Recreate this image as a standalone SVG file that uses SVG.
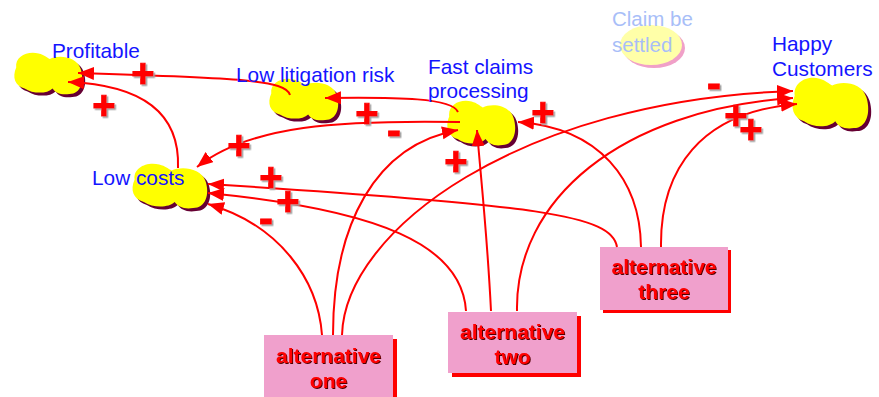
<svg xmlns="http://www.w3.org/2000/svg" xmlns:xlink="http://www.w3.org/1999/xlink" width="879" height="397" viewBox="0 0 879 397">
<style>
.lbl{font-family:"Liberation Sans",Arial,sans-serif;font-size:20.8px;fill:#1414ff}
.faint{font-family:"Liberation Sans",Arial,sans-serif;font-size:20.5px;fill:#a8bef8}
.alt{font-family:"Liberation Sans",Arial,sans-serif;font-size:21px;font-weight:bold;fill:#ff0000;text-anchor:middle;filter:url(#tshadow)}
.sign{font-family:"Liberation Sans",Arial,sans-serif;font-weight:bold;fill:#ff0000;stroke:#ff0000;stroke-width:1;text-anchor:middle;filter:url(#sshadow)}
.plus{font-size:40px}
.minus{font-size:42px}
.link{fill:none;stroke:#ff0000;stroke-width:2;marker-end:url(#arrow)}
.cloudsh{fill:#660033}
.cloud{fill:#ffff00}
.box{fill:#f0a0cc}
.boxsh{fill:#ff0000}
</style>
<defs>
<path id="cloud" d="M6,22 C4,6 22,-2 38,2 C46,4 50,8 54,10 C66,4 92,6 98,24 C104,42 98,60 82,60 C70,62 62,58 58,52 C50,60 30,60 18,52 C4,48 0,36 6,22 Z"/>
<marker id="arrow" markerUnits="userSpaceOnUse" markerWidth="18" markerHeight="14" refX="16" refY="6.5" orient="auto">
<path d="M0,0 L16,6.5 L0,13 Z" fill="#ff0000"/>
</marker>
<filter id="tshadow" x="-10%" y="-20%" width="120%" height="140%">
<feDropShadow dx="1" dy="1" stdDeviation="0.4" flood-color="#500000"/>
</filter>
<filter id="sshadow" x="-30%" y="-30%" width="160%" height="160%">
<feDropShadow dx="1.5" dy="1.5" stdDeviation="0.5" flood-color="#a0a0a0"/>
</filter>
</defs>
<rect width="879" height="397" fill="#ffffff"/>

<g id="node-profitable">
<use xlink:href="#cloud" class="cloudsh" transform="translate(15,55) scale(0.7,0.7)"/>
<use xlink:href="#cloud" class="cloud" transform="translate(12,52) scale(0.7,0.7)"/>
</g>
<g id="node-low-costs">
<use xlink:href="#cloud" class="cloudsh" transform="translate(133,166) scale(0.77,0.75)"/>
<use xlink:href="#cloud" class="cloud" transform="translate(130,163) scale(0.77,0.75)"/>
</g>
<g id="node-low-litigation-risk">
<use xlink:href="#cloud" class="cloudsh" transform="translate(270,81) scale(0.71,0.7)"/>
<use xlink:href="#cloud" class="cloud" transform="translate(267,78) scale(0.71,0.7)"/>
</g>
<g id="node-fast-claims">
<use xlink:href="#cloud" class="cloudsh" transform="translate(448,103) scale(0.7,0.75)"/>
<use xlink:href="#cloud" class="cloud" transform="translate(445,100) scale(0.7,0.75)"/>
</g>
<g id="node-happy-customers">
<use xlink:href="#cloud" class="cloudsh" transform="translate(793,80) scale(0.78,0.85)"/>
<use xlink:href="#cloud" class="cloud" transform="translate(790,77) scale(0.78,0.85)"/>
</g>
<g id="node-claim-settled">
<ellipse cx="654" cy="48" rx="31" ry="20" fill="#f0a0c8"/>
<ellipse cx="651" cy="45" rx="31" ry="20" fill="#ffffa8"/>
<text class="faint" x="612" y="26">Claim be</text>
<text class="faint" x="612" y="52">settled</text>
</g>

<g id="node-alt-one">
<rect class="boxsh" x="268" y="339" width="129" height="62"/>
<rect class="box" x="264" y="335" width="129" height="62"/>
<text class="alt" x="328.5" y="363">alternative</text>
<text class="alt" x="328.5" y="388">one</text>
</g>
<g id="node-alt-two">
<rect class="boxsh" x="452" y="316" width="129" height="61"/>
<rect class="box" x="448" y="312" width="129" height="61"/>
<text class="alt" x="512.5" y="339">alternative</text>
<text class="alt" x="512.5" y="364">two</text>
</g>
<g id="node-alt-three">
<rect class="boxsh" x="603" y="250" width="128" height="63"/>
<rect class="box" x="600" y="247" width="128" height="63"/>
<text class="alt" x="664" y="274">alternative</text>
<text class="alt" x="664" y="299">three</text>
</g>

<g id="connectors">
<path class="link" d="M290,95 C286,80 240,78 78,73"/>
<path class="link" d="M178,168 C180,115 145,85 68,82"/>
<path class="link" d="M458,112 C452,98 400,97 325,98"/>
<path class="link" d="M460,122 C340,120 250,125 197,167"/>
<path class="link" d="M322,335 C318,280 280,225 208,204"/>
<path class="link" d="M333,335 C333,225 375,145 458,130"/>
<path class="link" d="M342,335 C345,230 520,100 793,91"/>
<path class="link" d="M466,311 C462,245 380,210 208,193"/>
<path class="link" d="M491,311 C487,230 480,170 477,130"/>
<path class="link" d="M517,311 C515,200 620,110 793,98"/>
<path class="link" d="M617,247 C612,215 540,205 208,184"/>
<path class="link" d="M641,247 C640,180 600,128 518,122"/>
<path class="link" d="M661,247 C660,170 700,112 797,104"/>
<g id="connector-signs">
<text class="sign plus" x="143" y="87">+</text>
<text class="sign plus" x="104" y="119">+</text>
<text class="sign plus" x="367" y="127">+</text>
<text class="sign minus" x="394" y="145">-</text>
<text class="sign plus" x="239" y="159">+</text>
<text class="sign plus" x="271" y="191">+</text>
<text class="sign plus" x="288" y="215">+</text>
<text class="sign minus" x="266" y="233">-</text>
<text class="sign plus" x="456" y="175">+</text>
<text class="sign plus" x="543" y="126">+</text>
<text class="sign minus" x="714" y="98">-</text>
<text class="sign plus" x="736" y="129">+</text>
<text class="sign plus" x="751" y="143">+</text>
</g>
</g>

<g id="labels">
<text class="lbl" x="52" y="58">Profitable</text>
<text class="lbl" x="92" y="185">Low costs</text>
<text class="lbl" x="236" y="82">Low litigation risk</text>
<text class="lbl" x="428" y="74">Fast claims</text>
<text class="lbl" x="428" y="98">processing</text>
<text class="lbl" x="772" y="51">Happy</text>
<text class="lbl" x="772" y="76">Customers</text>
</g>
</svg>
